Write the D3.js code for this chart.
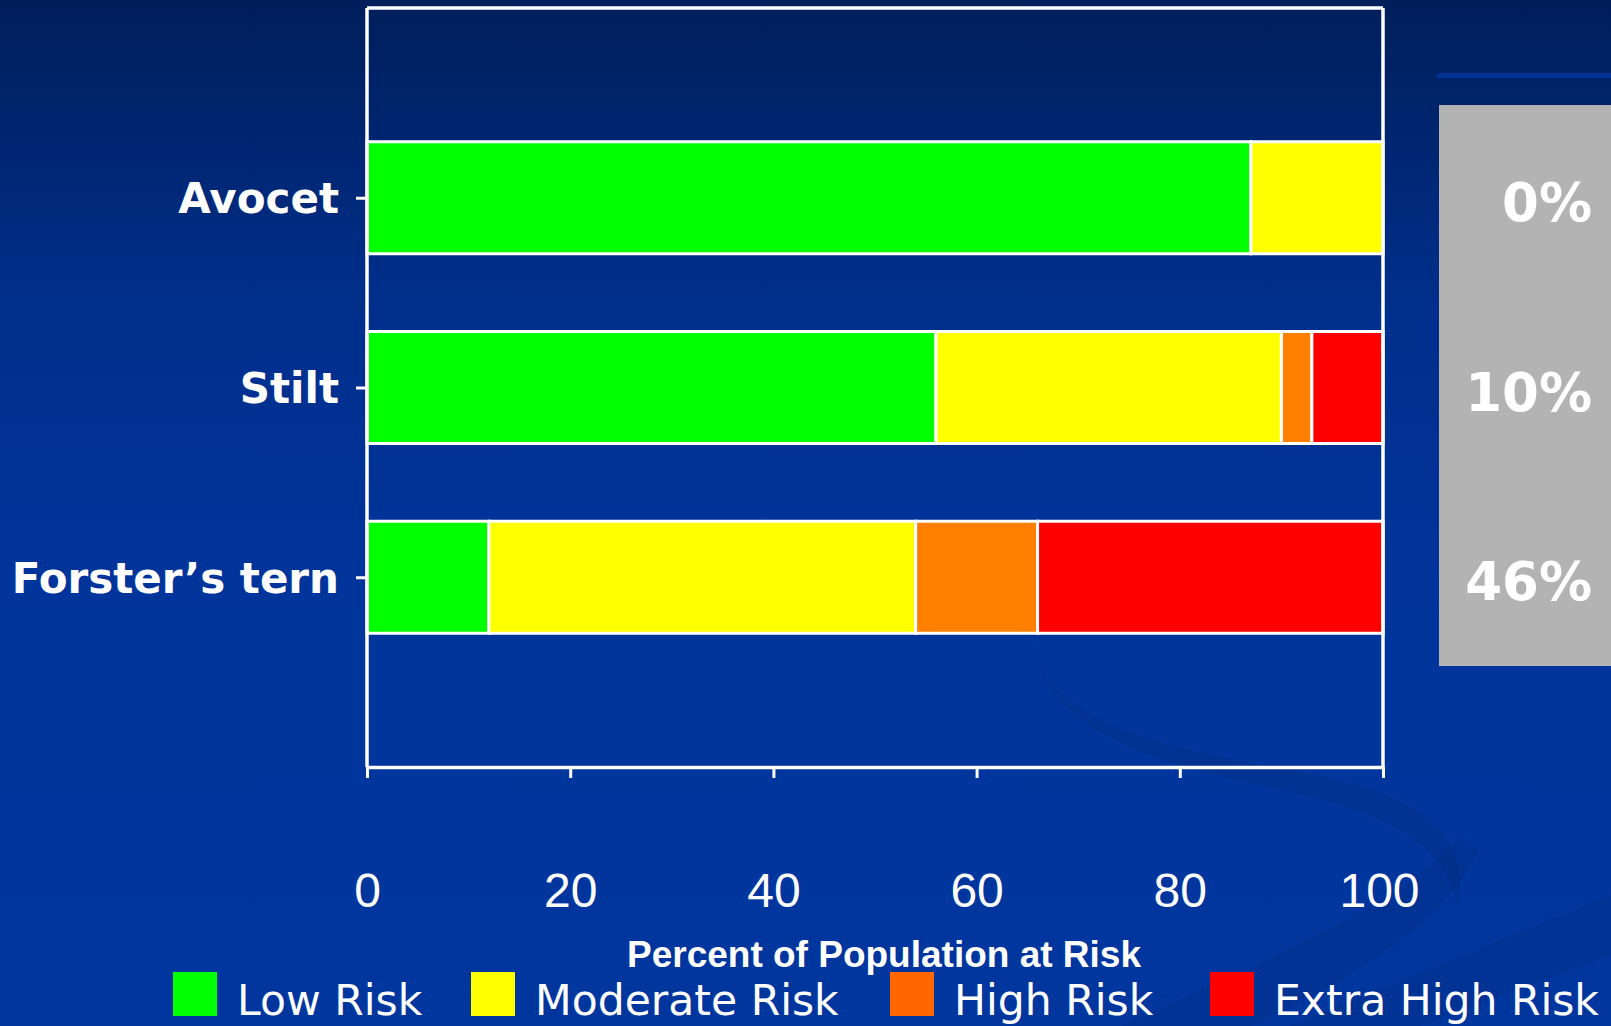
<!DOCTYPE html>
<html>
<head>
<meta charset="utf-8">
<script src="https://cdn.jsdelivr.net/npm/d3@7"></script>
<style>
  html, body { margin: 0; padding: 0; overflow: hidden; background: #00308f; }
  svg { display: block; }
</style>
</head>
<body>
<svg id="chart" width="1611" height="1026"></svg>
<script>
// Species and their share of population in each risk class (percent)
const species = ["Avocet", "Stilt", "Forster’s tern"];
const riskLevels = ["Low Risk", "Moderate Risk", "High Risk", "Extra High Risk"];
const lowRisk = [87, 56, 12];
const moderateRisk = [13, 34, 42];
const highRisk = [0, 3, 12];
const extraHighRisk = [0, 7, 34];
const xTicks = [0, 20, 40, 60, 80, 100];

const barColors = ["#00ff00", "#ffff00", "#ff8000", "#ff0000"];
const legendColors = ["#00ff00", "#ffff00", "#ff6600", "#ff0000"];

const W = 1611, H = 1026;
const plot = { left: 367, right: 1383, top: 8, bottom: 767 };

const svg = d3.select("#chart");

// Background gradient of the slide
const defs = svg.append("defs");
const grad = defs.append("linearGradient").attr("id", "bg")
  .attr("x1", 0).attr("y1", 0).attr("x2", 0).attr("y2", 1);
grad.append("stop").attr("offset", 0).attr("stop-color", "#001e5a");
grad.append("stop").attr("offset", 0.3).attr("stop-color", "#002f8c");
grad.append("stop").attr("offset", 0.6).attr("stop-color", "#00359c");
grad.append("stop").attr("offset", 1).attr("stop-color", "#00369e");
svg.append("rect").attr("width", W).attr("height", H).attr("fill", "url(#bg)");

// Faint decorative swooshes of the slide theme
const deco = svg.append("g").attr("fill", "#00286f");
deco.append("path").attr("opacity", 0.22)
  .attr("d", "M1030,625 C1035,720 1150,745 1300,772 C1420,795 1470,830 1458,905 C1448,852 1400,818 1300,794 C1150,762 1040,735 1030,625 Z");
deco.append("path").attr("opacity", 0.2)
  .attr("d", "M1120,1026 C1270,960 1410,900 1462,835 L1478,852 C1440,930 1330,990 1250,1026 Z");
deco.append("path").attr("opacity", 0.2)
  .attr("d", "M1290,1026 L1611,895 L1611,955 L1420,1026 Z");

// Scales
const x = d3.scaleLinear().domain([0, 100]).range([plot.left, plot.right]);
const y = d3.scalePoint().domain(species).range([plot.top, plot.bottom]).padding(1);
const barH = 112;

// Stacked data
const table = species.map((s, i) => ({
  species: s,
  "Low Risk": lowRisk[i],
  "Moderate Risk": moderateRisk[i],
  "High Risk": highRisk[i],
  "Extra High Risk": extraHighRisk[i]
}));
const stacked = d3.stack().keys(riskLevels)(table);

// Bars
const layers = svg.append("g").selectAll("g")
  .data(stacked).join("g")
  .attr("fill", (d, i) => barColors[i]);
layers.selectAll("rect")
  .data(d => d.filter(v => v[1] - v[0] > 0))
  .join("rect")
  .attr("x", d => x(d[0]))
  .attr("width", d => x(d[1]) - x(d[0]))
  .attr("y", d => y(d.data.species) - barH / 2)
  .attr("height", barH)
  .attr("stroke", "#ffffff")
  .attr("stroke-width", 3);

// Plot frame
const frame = svg.append("g").attr("stroke", "#ffffff").attr("stroke-width", 3.5).attr("fill", "none");
frame.append("line").attr("x1", plot.left).attr("x2", plot.right).attr("y1", plot.top).attr("y2", plot.top);
frame.append("line").attr("x1", plot.left).attr("x2", plot.left).attr("y1", plot.top).attr("y2", plot.bottom);
frame.append("line").attr("x1", plot.right).attr("x2", plot.right).attr("y1", plot.top).attr("y2", plot.bottom);

// X axis
const xAxis = svg.append("g")
  .attr("transform", `translate(0,${plot.bottom})`)
  .call(d3.axisBottom(x).tickValues(xTicks).tickSize(11).tickSizeOuter(0));
xAxis.select(".domain").attr("stroke", "#ffffff").attr("stroke-width", 3.5);
xAxis.selectAll(".tick line").attr("stroke", "#ffffff").attr("stroke-width", 3);
xAxis.selectAll(".tick text")
  .attr("fill", "#ffffff")
  .attr("font-family", "'Liberation Sans', Arial, sans-serif")
  .attr("font-size", 48)
  .attr("y", 140)
  .attr("dy", 0)
  .attr("dx", d => d === 100 ? -4 : 0);

// Y axis
const yAxis = svg.append("g")
  .attr("transform", `translate(${plot.left},0)`)
  .call(d3.axisLeft(y).tickSize(11).tickPadding(16).tickSizeOuter(0));
yAxis.select(".domain").remove();
yAxis.selectAll(".tick line").attr("stroke", "#ffffff").attr("stroke-width", 3);
yAxis.selectAll(".tick text")
  .attr("fill", "#ffffff")
  .attr("font-family", "'DejaVu Sans', Verdana, sans-serif")
  .attr("font-weight", "bold")
  .attr("font-size", 42)
  .attr("x", -28)
  .attr("dy", 15);

// Axis title
svg.append("text")
  .attr("x", 884).attr("y", 967)
  .attr("text-anchor", "middle")
  .attr("fill", "#ffffff")
  .attr("font-family", "'Liberation Sans', Arial, sans-serif")
  .attr("font-weight", "bold")
  .attr("font-size", 37)
  .text("Percent of Population at Risk");

// Side panel with share at high or extra high risk
svg.append("rect").attr("x", 1437).attr("y", 73).attr("width", W - 1437).attr("height", 5).attr("fill", "#003294");
svg.append("rect").attr("x", 1439).attr("y", 105).attr("width", W - 1439).attr("height", 561).attr("fill", "#b3b3b3");
svg.append("g").selectAll("text")
  .data(species)
  .join("text")
  .attr("x", 1592)
  .attr("y", (d) => y(d) + 23)
  .attr("text-anchor", "end")
  .attr("fill", "#ffffff")
  .attr("font-family", "'DejaVu Sans', Verdana, sans-serif")
  .attr("font-weight", "bold")
  .attr("font-size", 53)
  .text((d, i) => `${highRisk[i] + extraHighRisk[i]}%`);

// Legend
const legendX = [173, 471, 890, 1210];
const legend = svg.append("g").selectAll("g")
  .data(riskLevels)
  .join("g")
  .attr("transform", (d, i) => `translate(${legendX[i]},972)`);
legend.append("rect")
  .attr("width", 44).attr("height", 44)
  .attr("fill", (d, i) => legendColors[i]);
legend.append("text")
  .attr("x", 64).attr("y", 43)
  .attr("fill", "#ffffff")
  .attr("font-family", "'DejaVu Sans', Verdana, sans-serif")
  .attr("font-size", 42.5)
  .text(d => d);
</script>
</body>
</html>
